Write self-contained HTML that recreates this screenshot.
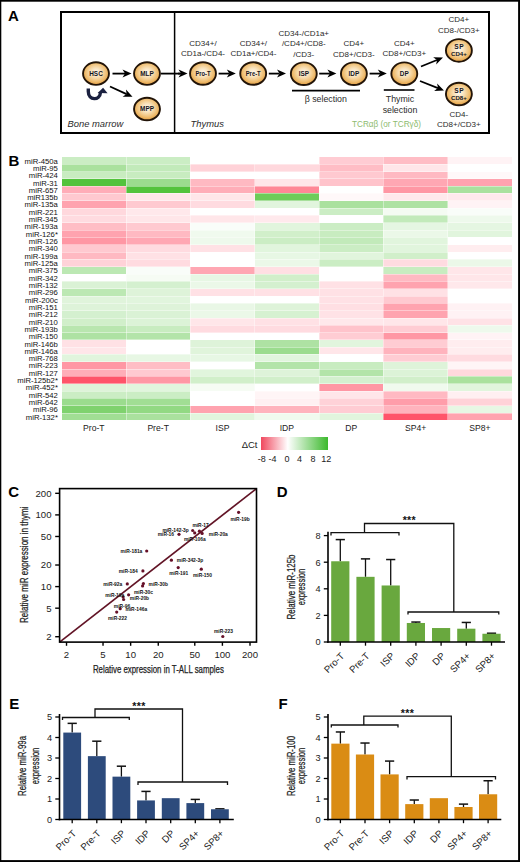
<!DOCTYPE html>
<html><head><meta charset="utf-8"><title>Figure</title>
<style>
html,body{margin:0;padding:0;background:#fff;}
body{width:520px;height:862px;overflow:hidden;}
svg{display:block;}
text{font-family:"Liberation Sans",sans-serif;}
.lbl{font-weight:bold;font-size:15px;fill:#000;}
</style></head><body>
<svg width="520" height="862" viewBox="0 0 520 862">
<defs>
<radialGradient id="cg" cx="50%" cy="45%" r="55%">
<stop offset="0" stop-color="#fef9f0"/>
<stop offset="0.35" stop-color="#f8e2bc"/>
<stop offset="0.75" stop-color="#efbd70"/>
<stop offset="1" stop-color="#e29c40"/>
</radialGradient>
<linearGradient id="lg" x1="0" x2="1" y1="0" y2="0">
<stop offset="0" stop-color="#f0485e"/>
<stop offset="0.4" stop-color="#ffffff"/>
<stop offset="1" stop-color="#3cb92d"/>
</linearGradient>
</defs>
<rect x="0" y="0" width="520" height="862" fill="#fff"/>

<text class="lbl" x="8" y="20.8">A</text>
<rect x="61" y="12" width="428" height="121" fill="none" stroke="#000" stroke-width="2"/>
<line x1="174.6" y1="12" x2="174.6" y2="133" stroke="#000" stroke-width="1.5"/>
<line x1="112.50" y1="73.60" x2="125.00" y2="73.60" stroke="#000" stroke-width="1.80"/><path d="M131.50 73.60L122.50 77.60L125.00 73.60L122.50 69.60Z" fill="#000"/>
<line x1="110.00" y1="86.50" x2="126.59" y2="94.09" stroke="#000" stroke-width="1.80"/><path d="M132.50 96.80L122.65 96.69L126.59 94.09L125.98 89.42Z" fill="#000"/>
<line x1="161" y1="73.60" x2="180" y2="73.60" stroke="#000" stroke-width="1.8"/>
<line x1="178.00" y1="73.60" x2="181.00" y2="73.60" stroke="#000" stroke-width="1.80"/><path d="M187.50 73.60L178.50 77.60L181.00 73.60L178.50 69.60Z" fill="#000"/>
<line x1="218.60" y1="73.60" x2="229.30" y2="73.60" stroke="#000" stroke-width="1.80"/><path d="M235.80 73.60L226.80 77.60L229.30 73.60L226.80 69.60Z" fill="#000"/>
<line x1="268.80" y1="73.60" x2="279.50" y2="73.60" stroke="#000" stroke-width="1.80"/><path d="M286.00 73.60L277.00 77.60L279.50 73.60L277.00 69.60Z" fill="#000"/>
<line x1="319.20" y1="73.60" x2="329.90" y2="73.60" stroke="#000" stroke-width="1.80"/><path d="M336.40 73.60L327.40 77.60L329.90 73.60L327.40 69.60Z" fill="#000"/>
<line x1="369.60" y1="73.60" x2="380.30" y2="73.60" stroke="#000" stroke-width="1.80"/><path d="M386.80 73.60L377.80 77.60L380.30 73.60L377.80 69.60Z" fill="#000"/>
<line x1="421.00" y1="66.50" x2="436.98" y2="59.96" stroke="#000" stroke-width="1.80"/><path d="M443.00 57.50L436.18 64.61L436.98 59.96L433.16 57.21Z" fill="#000"/>
<line x1="420.00" y1="81.00" x2="437.96" y2="88.11" stroke="#000" stroke-width="1.80"/><path d="M444.00 90.50L434.16 90.91L437.96 88.11L437.10 83.47Z" fill="#000"/>
<path d="M88.3 88.6 L88.3 91.5 C88.3 100.8 100 100.8 100.4 92.6" fill="none" stroke="#1b2140" stroke-width="3.4" stroke-linecap="butt"/>
<path d="M103.1 87.8 L107.6 93.2 L97.6 92.9 Z" fill="#1b2140"/>
<ellipse cx="96.00" cy="73.60" rx="12.95" ry="11.3" fill="url(#cg)" stroke="#221408" stroke-width="1.9"/><text x="96.00" y="76.00" font-size="6.4" font-weight="bold" fill="#141420" text-anchor="middle">HSC</text>
<ellipse cx="147.00" cy="73.60" rx="12.95" ry="11.3" fill="url(#cg)" stroke="#221408" stroke-width="1.9"/><text x="147.00" y="76.00" font-size="6.4" font-weight="bold" fill="#141420" text-anchor="middle">MLP</text>
<ellipse cx="147.00" cy="109.00" rx="12.95" ry="11.3" fill="url(#cg)" stroke="#221408" stroke-width="1.9"/><text x="147.00" y="111.40" font-size="6.4" font-weight="bold" fill="#141420" text-anchor="middle">MPP</text>
<ellipse cx="203.00" cy="73.50" rx="12.95" ry="11.3" fill="url(#cg)" stroke="#221408" stroke-width="1.9"/><text x="203.00" y="75.90" font-size="6.4" font-weight="bold" fill="#141420" text-anchor="middle" textLength="15.0" lengthAdjust="spacingAndGlyphs">Pro-T</text>
<ellipse cx="253.20" cy="73.50" rx="12.95" ry="11.3" fill="url(#cg)" stroke="#221408" stroke-width="1.9"/><text x="253.20" y="75.90" font-size="6.4" font-weight="bold" fill="#141420" text-anchor="middle" textLength="15.0" lengthAdjust="spacingAndGlyphs">Pre-T</text>
<ellipse cx="303.80" cy="73.70" rx="12.95" ry="11.3" fill="url(#cg)" stroke="#221408" stroke-width="1.9"/><text x="303.80" y="76.10" font-size="6.4" font-weight="bold" fill="#141420" text-anchor="middle">ISP</text>
<ellipse cx="353.90" cy="73.70" rx="12.95" ry="11.3" fill="url(#cg)" stroke="#221408" stroke-width="1.9"/><text x="353.90" y="76.10" font-size="6.4" font-weight="bold" fill="#141420" text-anchor="middle">IDP</text>
<ellipse cx="404.30" cy="73.70" rx="12.95" ry="11.3" fill="url(#cg)" stroke="#221408" stroke-width="1.9"/><text x="404.30" y="76.10" font-size="6.4" font-weight="bold" fill="#141420" text-anchor="middle">DP</text>
<ellipse cx="458.90" cy="50.40" rx="12.95" ry="11.3" fill="url(#cg)" stroke="#221408" stroke-width="1.9"/><text x="459.15" y="49.10" font-size="6.6" font-weight="bold" fill="#141420" text-anchor="middle" letter-spacing="0.5">SP</text><text x="458.90" y="56.10" font-size="6.1" font-weight="bold" fill="#141420" text-anchor="middle">CD4+</text>
<ellipse cx="458.90" cy="94.00" rx="12.95" ry="11.3" fill="url(#cg)" stroke="#221408" stroke-width="1.9"/><text x="459.15" y="92.70" font-size="6.6" font-weight="bold" fill="#141420" text-anchor="middle" letter-spacing="0.5">SP</text><text x="458.90" y="99.70" font-size="6.1" font-weight="bold" fill="#141420" text-anchor="middle">CD8+</text>
<text x="203.00" y="46.00" font-size="8" fill="#2a2a2a" text-anchor="middle" >CD34+/</text>
<text x="203.00" y="55.50" font-size="8" fill="#2a2a2a" text-anchor="middle" >CD1a-/CD4-</text>
<text x="253.40" y="46.00" font-size="8" fill="#2a2a2a" text-anchor="middle" >CD34+/</text>
<text x="253.40" y="55.50" font-size="8" fill="#2a2a2a" text-anchor="middle" >CD1a+/CD4-</text>
<text x="303.80" y="35.80" font-size="8" fill="#2a2a2a" text-anchor="middle" >CD34-/CD1a+</text>
<text x="303.80" y="46.00" font-size="8" fill="#2a2a2a" text-anchor="middle" >/CD4+/CD8-</text>
<text x="303.80" y="56.50" font-size="8" fill="#2a2a2a" text-anchor="middle" >/CD3-</text>
<text x="353.80" y="46.00" font-size="8" fill="#2a2a2a" text-anchor="middle" >CD4+</text>
<text x="353.80" y="56.50" font-size="8" fill="#2a2a2a" text-anchor="middle" >CD8+/CD3-</text>
<text x="404.30" y="46.00" font-size="8" fill="#2a2a2a" text-anchor="middle" >CD4+</text>
<text x="404.30" y="56.00" font-size="8" fill="#2a2a2a" text-anchor="middle" >CD8+/CD3+</text>
<text x="458.80" y="22.30" font-size="8" fill="#2a2a2a" text-anchor="middle" >CD4+</text>
<text x="458.80" y="32.80" font-size="8" fill="#2a2a2a" text-anchor="middle" >CD8-/CD3+</text>
<text x="458.80" y="117.30" font-size="8" fill="#2a2a2a" text-anchor="middle" >CD4-</text>
<text x="458.80" y="127.30" font-size="8" fill="#2a2a2a" text-anchor="middle" >CD8+/CD3+</text>
<line x1="292" y1="90.6" x2="360" y2="90.6" stroke="#000" stroke-width="1.6"/>
<text x="325.80" y="102.20" font-size="8.8" fill="#2a2a2a" text-anchor="middle" >&#946; selection</text>
<line x1="383.8" y1="90" x2="414.5" y2="90" stroke="#000" stroke-width="1.6"/>
<text x="400.00" y="101.70" font-size="8.8" fill="#2a2a2a" text-anchor="middle" >Thymic</text>
<text x="400.00" y="113.00" font-size="8.8" fill="#2a2a2a" text-anchor="middle" >selection</text>
<text x="386.50" y="126.50" font-size="8.2" fill="#8dbb6e" text-anchor="middle" >TCR&#945;&#946; (or TCR&#947;&#948;)</text>
<text x="67.50" y="126.50" font-size="9.4" fill="#2a2a2a" text-anchor="start" font-style="italic">Bone marrow</text>
<text x="190.50" y="126.50" font-size="9.4" fill="#2a2a2a" text-anchor="start" font-style="italic">Thymus</text>
<text class="lbl" x="8.5" y="165.8">B</text>
<g shape-rendering="crispEdges">
<rect x="61.60" y="156.90" width="64.66" height="7.62" fill="#cbedc4"/>
<rect x="125.96" y="156.90" width="64.66" height="7.62" fill="#cbedc4"/>
<rect x="190.31" y="156.90" width="64.66" height="7.62" fill="#ffffff"/>
<rect x="254.67" y="156.90" width="64.66" height="7.62" fill="#ffffff"/>
<rect x="319.03" y="156.90" width="64.66" height="7.62" fill="#ffccd3"/>
<rect x="383.39" y="156.90" width="64.66" height="7.62" fill="#ffbdc5"/>
<rect x="447.74" y="156.90" width="64.66" height="7.62" fill="#fff3f5"/>
<rect x="61.60" y="164.22" width="64.66" height="7.62" fill="#aae19e"/>
<rect x="125.96" y="164.22" width="64.66" height="7.62" fill="#c2eaba"/>
<rect x="190.31" y="164.22" width="64.66" height="7.62" fill="#ffd2d8"/>
<rect x="254.67" y="164.22" width="64.66" height="7.62" fill="#ffd8dd"/>
<rect x="319.03" y="164.22" width="64.66" height="7.62" fill="#ffbdc5"/>
<rect x="383.39" y="164.22" width="64.66" height="7.62" fill="#ffe6e9"/>
<rect x="447.74" y="164.22" width="64.66" height="7.62" fill="#ffffff"/>
<rect x="61.60" y="171.54" width="64.66" height="7.62" fill="#c8ecc0"/>
<rect x="125.96" y="171.54" width="64.66" height="7.62" fill="#c8ecc0"/>
<rect x="190.31" y="171.54" width="64.66" height="7.62" fill="#ffffff"/>
<rect x="254.67" y="171.54" width="64.66" height="7.62" fill="#ffffff"/>
<rect x="319.03" y="171.54" width="64.66" height="7.62" fill="#ffc9d0"/>
<rect x="383.39" y="171.54" width="64.66" height="7.62" fill="#ffb9c2"/>
<rect x="447.74" y="171.54" width="64.66" height="7.62" fill="#fff8f9"/>
<rect x="61.60" y="178.85" width="64.66" height="7.62" fill="#53c33c"/>
<rect x="125.96" y="178.85" width="64.66" height="7.62" fill="#9bdc8e"/>
<rect x="190.31" y="178.85" width="64.66" height="7.62" fill="#ffb9c2"/>
<rect x="254.67" y="178.85" width="64.66" height="7.62" fill="#ffe6e9"/>
<rect x="319.03" y="178.85" width="64.66" height="7.62" fill="#ffc3cb"/>
<rect x="383.39" y="178.85" width="64.66" height="7.62" fill="#ffa7b3"/>
<rect x="447.74" y="178.85" width="64.66" height="7.62" fill="#ffa3af"/>
<rect x="61.60" y="186.17" width="64.66" height="7.62" fill="#ffadb8"/>
<rect x="125.96" y="186.17" width="64.66" height="7.62" fill="#53c33c"/>
<rect x="190.31" y="186.17" width="64.66" height="7.62" fill="#ffadb8"/>
<rect x="254.67" y="186.17" width="64.66" height="7.62" fill="#ff8796"/>
<rect x="319.03" y="186.17" width="64.66" height="7.62" fill="#ffffff"/>
<rect x="383.39" y="186.17" width="64.66" height="7.62" fill="#ff97a4"/>
<rect x="447.74" y="186.17" width="64.66" height="7.62" fill="#aae19e"/>
<rect x="61.60" y="193.49" width="64.66" height="7.62" fill="#ffc9d0"/>
<rect x="125.96" y="193.49" width="64.66" height="7.62" fill="#ffe6e9"/>
<rect x="190.31" y="193.49" width="64.66" height="7.62" fill="#ffe6e9"/>
<rect x="254.67" y="193.49" width="64.66" height="7.62" fill="#6dcc59"/>
<rect x="319.03" y="193.49" width="64.66" height="7.62" fill="#fff8f9"/>
<rect x="383.39" y="193.49" width="64.66" height="7.62" fill="#ffe9ec"/>
<rect x="447.74" y="193.49" width="64.66" height="7.62" fill="#ffe9ec"/>
<rect x="61.60" y="200.81" width="64.66" height="7.62" fill="#ffa3af"/>
<rect x="125.96" y="200.81" width="64.66" height="7.62" fill="#ffc9d0"/>
<rect x="190.31" y="200.81" width="64.66" height="7.62" fill="#ffdbe0"/>
<rect x="254.67" y="200.81" width="64.66" height="7.62" fill="#e1f5dd"/>
<rect x="319.03" y="200.81" width="64.66" height="7.62" fill="#aae19e"/>
<rect x="383.39" y="200.81" width="64.66" height="7.62" fill="#aee2a3"/>
<rect x="447.74" y="200.81" width="64.66" height="7.62" fill="#fff3f5"/>
<rect x="61.60" y="208.13" width="64.66" height="7.62" fill="#ffd8dd"/>
<rect x="125.96" y="208.13" width="64.66" height="7.62" fill="#ffe8eb"/>
<rect x="190.31" y="208.13" width="64.66" height="7.62" fill="#ffffff"/>
<rect x="254.67" y="208.13" width="64.66" height="7.62" fill="#ffffff"/>
<rect x="319.03" y="208.13" width="64.66" height="7.62" fill="#cbedc4"/>
<rect x="383.39" y="208.13" width="64.66" height="7.62" fill="#f4fbf2"/>
<rect x="447.74" y="208.13" width="64.66" height="7.62" fill="#f9fdf9"/>
<rect x="61.60" y="215.44" width="64.66" height="7.62" fill="#ffdbe0"/>
<rect x="125.96" y="215.44" width="64.66" height="7.62" fill="#ffe6e9"/>
<rect x="190.31" y="215.44" width="64.66" height="7.62" fill="#ffe6e9"/>
<rect x="254.67" y="215.44" width="64.66" height="7.62" fill="#ffe9ec"/>
<rect x="319.03" y="215.44" width="64.66" height="7.62" fill="#ffffff"/>
<rect x="383.39" y="215.44" width="64.66" height="7.62" fill="#c2eaba"/>
<rect x="447.74" y="215.44" width="64.66" height="7.62" fill="#eef9ec"/>
<rect x="61.60" y="222.76" width="64.66" height="7.62" fill="#ffbdc5"/>
<rect x="125.96" y="222.76" width="64.66" height="7.62" fill="#ffc9d0"/>
<rect x="190.31" y="222.76" width="64.66" height="7.62" fill="#f9fdf9"/>
<rect x="254.67" y="222.76" width="64.66" height="7.62" fill="#e1f5dd"/>
<rect x="319.03" y="222.76" width="64.66" height="7.62" fill="#cbedc4"/>
<rect x="383.39" y="222.76" width="64.66" height="7.62" fill="#e5f6e2"/>
<rect x="447.74" y="222.76" width="64.66" height="7.62" fill="#e5f6e2"/>
<rect x="61.60" y="230.08" width="64.66" height="7.62" fill="#ffa3af"/>
<rect x="125.96" y="230.08" width="64.66" height="7.62" fill="#ffb9c2"/>
<rect x="190.31" y="230.08" width="64.66" height="7.62" fill="#f0faee"/>
<rect x="254.67" y="230.08" width="64.66" height="7.62" fill="#d1efca"/>
<rect x="319.03" y="230.08" width="64.66" height="7.62" fill="#c8ecc0"/>
<rect x="383.39" y="230.08" width="64.66" height="7.62" fill="#ebf8e8"/>
<rect x="447.74" y="230.08" width="64.66" height="7.62" fill="#e1f5dd"/>
<rect x="61.60" y="237.40" width="64.66" height="7.62" fill="#ff97a4"/>
<rect x="125.96" y="237.40" width="64.66" height="7.62" fill="#ffa7b3"/>
<rect x="190.31" y="237.40" width="64.66" height="7.62" fill="#eef9ec"/>
<rect x="254.67" y="237.40" width="64.66" height="7.62" fill="#cbedc4"/>
<rect x="319.03" y="237.40" width="64.66" height="7.62" fill="#c2eaba"/>
<rect x="383.39" y="237.40" width="64.66" height="7.62" fill="#e1f5dd"/>
<rect x="447.74" y="237.40" width="64.66" height="7.62" fill="#ffffff"/>
<rect x="61.60" y="244.72" width="64.66" height="7.62" fill="#ffc9d0"/>
<rect x="125.96" y="244.72" width="64.66" height="7.62" fill="#ffdbe0"/>
<rect x="190.31" y="244.72" width="64.66" height="7.62" fill="#ffe1e5"/>
<rect x="254.67" y="244.72" width="64.66" height="7.62" fill="#e1f5dd"/>
<rect x="319.03" y="244.72" width="64.66" height="7.62" fill="#cbedc4"/>
<rect x="383.39" y="244.72" width="64.66" height="7.62" fill="#e1f5dd"/>
<rect x="447.74" y="244.72" width="64.66" height="7.62" fill="#ffedef"/>
<rect x="61.60" y="252.03" width="64.66" height="7.62" fill="#ffb9c2"/>
<rect x="125.96" y="252.03" width="64.66" height="7.62" fill="#ffe1e5"/>
<rect x="190.31" y="252.03" width="64.66" height="7.62" fill="#ffffff"/>
<rect x="254.67" y="252.03" width="64.66" height="7.62" fill="#e7f7e4"/>
<rect x="319.03" y="252.03" width="64.66" height="7.62" fill="#e1f5dd"/>
<rect x="383.39" y="252.03" width="64.66" height="7.62" fill="#d1efca"/>
<rect x="447.74" y="252.03" width="64.66" height="7.62" fill="#ffffff"/>
<rect x="61.60" y="259.35" width="64.66" height="7.62" fill="#ffd2d8"/>
<rect x="125.96" y="259.35" width="64.66" height="7.62" fill="#ffdbe0"/>
<rect x="190.31" y="259.35" width="64.66" height="7.62" fill="#ffffff"/>
<rect x="254.67" y="259.35" width="64.66" height="7.62" fill="#ebf8e8"/>
<rect x="319.03" y="259.35" width="64.66" height="7.62" fill="#cbedc4"/>
<rect x="383.39" y="259.35" width="64.66" height="7.62" fill="#ffdbe0"/>
<rect x="447.74" y="259.35" width="64.66" height="7.62" fill="#ebf8e8"/>
<rect x="61.60" y="266.67" width="64.66" height="7.62" fill="#bce8b3"/>
<rect x="125.96" y="266.67" width="64.66" height="7.62" fill="#f9fdf9"/>
<rect x="190.31" y="266.67" width="64.66" height="7.62" fill="#ffa7b3"/>
<rect x="254.67" y="266.67" width="64.66" height="7.62" fill="#ffdfe3"/>
<rect x="319.03" y="266.67" width="64.66" height="7.62" fill="#ffffff"/>
<rect x="383.39" y="266.67" width="64.66" height="7.62" fill="#c8ecc0"/>
<rect x="447.74" y="266.67" width="64.66" height="7.62" fill="#ffe6e9"/>
<rect x="61.60" y="273.99" width="64.66" height="7.62" fill="#ffffff"/>
<rect x="125.96" y="273.99" width="64.66" height="7.62" fill="#f6fcf4"/>
<rect x="190.31" y="273.99" width="64.66" height="7.62" fill="#e7f7e4"/>
<rect x="254.67" y="273.99" width="64.66" height="7.62" fill="#d1efca"/>
<rect x="319.03" y="273.99" width="64.66" height="7.62" fill="#ffffff"/>
<rect x="383.39" y="273.99" width="64.66" height="7.62" fill="#ffb9c2"/>
<rect x="447.74" y="273.99" width="64.66" height="7.62" fill="#ffe6e9"/>
<rect x="61.60" y="281.31" width="64.66" height="7.62" fill="#daf2d5"/>
<rect x="125.96" y="281.31" width="64.66" height="7.62" fill="#d4f0cf"/>
<rect x="190.31" y="281.31" width="64.66" height="7.62" fill="#ebf8e8"/>
<rect x="254.67" y="281.31" width="64.66" height="7.62" fill="#d4f0cf"/>
<rect x="319.03" y="281.31" width="64.66" height="7.62" fill="#ffe1e5"/>
<rect x="383.39" y="281.31" width="64.66" height="7.62" fill="#ffa3af"/>
<rect x="447.74" y="281.31" width="64.66" height="7.62" fill="#ffe8eb"/>
<rect x="61.60" y="288.62" width="64.66" height="7.62" fill="#bce8b3"/>
<rect x="125.96" y="288.62" width="64.66" height="7.62" fill="#def3d9"/>
<rect x="190.31" y="288.62" width="64.66" height="7.62" fill="#ffe1e5"/>
<rect x="254.67" y="288.62" width="64.66" height="7.62" fill="#ffe1e5"/>
<rect x="319.03" y="288.62" width="64.66" height="7.62" fill="#ffe1e5"/>
<rect x="383.39" y="288.62" width="64.66" height="7.62" fill="#ffe1e5"/>
<rect x="447.74" y="288.62" width="64.66" height="7.62" fill="#ffffff"/>
<rect x="61.60" y="295.94" width="64.66" height="7.62" fill="#e0f4db"/>
<rect x="125.96" y="295.94" width="64.66" height="7.62" fill="#e1f5dd"/>
<rect x="190.31" y="295.94" width="64.66" height="7.62" fill="#ffffff"/>
<rect x="254.67" y="295.94" width="64.66" height="7.62" fill="#ffffff"/>
<rect x="319.03" y="295.94" width="64.66" height="7.62" fill="#ffe1e5"/>
<rect x="383.39" y="295.94" width="64.66" height="7.62" fill="#ffc9d0"/>
<rect x="447.74" y="295.94" width="64.66" height="7.62" fill="#ffffff"/>
<rect x="61.60" y="303.26" width="64.66" height="7.62" fill="#def3d9"/>
<rect x="125.96" y="303.26" width="64.66" height="7.62" fill="#def3d9"/>
<rect x="190.31" y="303.26" width="64.66" height="7.62" fill="#e9f7e6"/>
<rect x="254.67" y="303.26" width="64.66" height="7.62" fill="#def3d9"/>
<rect x="319.03" y="303.26" width="64.66" height="7.62" fill="#ffdfe3"/>
<rect x="383.39" y="303.26" width="64.66" height="7.62" fill="#ffa3af"/>
<rect x="447.74" y="303.26" width="64.66" height="7.62" fill="#fff2f4"/>
<rect x="61.60" y="310.58" width="64.66" height="7.62" fill="#d4f0cf"/>
<rect x="125.96" y="310.58" width="64.66" height="7.62" fill="#daf2d5"/>
<rect x="190.31" y="310.58" width="64.66" height="7.62" fill="#ebf8e8"/>
<rect x="254.67" y="310.58" width="64.66" height="7.62" fill="#d6f1d1"/>
<rect x="319.03" y="310.58" width="64.66" height="7.62" fill="#ffe2e6"/>
<rect x="383.39" y="310.58" width="64.66" height="7.62" fill="#ffa3af"/>
<rect x="447.74" y="310.58" width="64.66" height="7.62" fill="#fff2f4"/>
<rect x="61.60" y="317.90" width="64.66" height="7.62" fill="#d1efca"/>
<rect x="125.96" y="317.90" width="64.66" height="7.62" fill="#dcf3d7"/>
<rect x="190.31" y="317.90" width="64.66" height="7.62" fill="#ffe6e9"/>
<rect x="254.67" y="317.90" width="64.66" height="7.62" fill="#ffe1e5"/>
<rect x="319.03" y="317.90" width="64.66" height="7.62" fill="#ffe8eb"/>
<rect x="383.39" y="317.90" width="64.66" height="7.62" fill="#ffe6e9"/>
<rect x="447.74" y="317.90" width="64.66" height="7.62" fill="#ffe2e6"/>
<rect x="61.60" y="325.21" width="64.66" height="7.62" fill="#b9e6af"/>
<rect x="125.96" y="325.21" width="64.66" height="7.62" fill="#c8ecc0"/>
<rect x="190.31" y="325.21" width="64.66" height="7.62" fill="#ffdbe0"/>
<rect x="254.67" y="325.21" width="64.66" height="7.62" fill="#ffdbe0"/>
<rect x="319.03" y="325.21" width="64.66" height="7.62" fill="#ffc3cb"/>
<rect x="383.39" y="325.21" width="64.66" height="7.62" fill="#ffccd3"/>
<rect x="447.74" y="325.21" width="64.66" height="7.62" fill="#eef9ec"/>
<rect x="61.60" y="332.53" width="64.66" height="7.62" fill="#aee2a3"/>
<rect x="125.96" y="332.53" width="64.66" height="7.62" fill="#b3e4a9"/>
<rect x="190.31" y="332.53" width="64.66" height="7.62" fill="#ffffff"/>
<rect x="254.67" y="332.53" width="64.66" height="7.62" fill="#ffffff"/>
<rect x="319.03" y="332.53" width="64.66" height="7.62" fill="#ffccd3"/>
<rect x="383.39" y="332.53" width="64.66" height="7.62" fill="#ff97a4"/>
<rect x="447.74" y="332.53" width="64.66" height="7.62" fill="#fff3f5"/>
<rect x="61.60" y="339.85" width="64.66" height="7.62" fill="#ffe1e5"/>
<rect x="125.96" y="339.85" width="64.66" height="7.62" fill="#ffffff"/>
<rect x="190.31" y="339.85" width="64.66" height="7.62" fill="#def3d9"/>
<rect x="254.67" y="339.85" width="64.66" height="7.62" fill="#aee2a3"/>
<rect x="319.03" y="339.85" width="64.66" height="7.62" fill="#e1f5dd"/>
<rect x="383.39" y="339.85" width="64.66" height="7.62" fill="#ffccd3"/>
<rect x="447.74" y="339.85" width="64.66" height="7.62" fill="#ffedef"/>
<rect x="61.60" y="347.17" width="64.66" height="7.62" fill="#ffe6e9"/>
<rect x="125.96" y="347.17" width="64.66" height="7.62" fill="#ffffff"/>
<rect x="190.31" y="347.17" width="64.66" height="7.62" fill="#e0f4db"/>
<rect x="254.67" y="347.17" width="64.66" height="7.62" fill="#9bdc8e"/>
<rect x="319.03" y="347.17" width="64.66" height="7.62" fill="#ffe6e9"/>
<rect x="383.39" y="347.17" width="64.66" height="7.62" fill="#ffb3bd"/>
<rect x="447.74" y="347.17" width="64.66" height="7.62" fill="#ffedef"/>
<rect x="61.60" y="354.49" width="64.66" height="7.62" fill="#e1f5dd"/>
<rect x="125.96" y="354.49" width="64.66" height="7.62" fill="#e7f7e4"/>
<rect x="190.31" y="354.49" width="64.66" height="7.62" fill="#e7f7e4"/>
<rect x="254.67" y="354.49" width="64.66" height="7.62" fill="#e1f5dd"/>
<rect x="319.03" y="354.49" width="64.66" height="7.62" fill="#ffffff"/>
<rect x="383.39" y="354.49" width="64.66" height="7.62" fill="#ffccd3"/>
<rect x="447.74" y="354.49" width="64.66" height="7.62" fill="#ffdbe0"/>
<rect x="61.60" y="361.80" width="64.66" height="7.62" fill="#ff97a4"/>
<rect x="125.96" y="361.80" width="64.66" height="7.62" fill="#ffbdc5"/>
<rect x="190.31" y="361.80" width="64.66" height="7.62" fill="#ffffff"/>
<rect x="254.67" y="361.80" width="64.66" height="7.62" fill="#b3e4a9"/>
<rect x="319.03" y="361.80" width="64.66" height="7.62" fill="#c8ecc0"/>
<rect x="383.39" y="361.80" width="64.66" height="7.62" fill="#def3d9"/>
<rect x="447.74" y="361.80" width="64.66" height="7.62" fill="#fff5f6"/>
<rect x="61.60" y="369.12" width="64.66" height="7.62" fill="#ffadb8"/>
<rect x="125.96" y="369.12" width="64.66" height="7.62" fill="#ffc9d0"/>
<rect x="190.31" y="369.12" width="64.66" height="7.62" fill="#e1f5dd"/>
<rect x="254.67" y="369.12" width="64.66" height="7.62" fill="#def3d9"/>
<rect x="319.03" y="369.12" width="64.66" height="7.62" fill="#b3e4a9"/>
<rect x="383.39" y="369.12" width="64.66" height="7.62" fill="#dcf3d7"/>
<rect x="447.74" y="369.12" width="64.66" height="7.62" fill="#ffd8dd"/>
<rect x="61.60" y="376.44" width="64.66" height="7.62" fill="#ff546a"/>
<rect x="125.96" y="376.44" width="64.66" height="7.62" fill="#ff97a4"/>
<rect x="190.31" y="376.44" width="64.66" height="7.62" fill="#d1efca"/>
<rect x="254.67" y="376.44" width="64.66" height="7.62" fill="#d1efca"/>
<rect x="319.03" y="376.44" width="64.66" height="7.62" fill="#d4f0cf"/>
<rect x="383.39" y="376.44" width="64.66" height="7.62" fill="#d1efca"/>
<rect x="447.74" y="376.44" width="64.66" height="7.62" fill="#aae19e"/>
<rect x="61.60" y="383.76" width="64.66" height="7.62" fill="#def3d9"/>
<rect x="125.96" y="383.76" width="64.66" height="7.62" fill="#e1f5dd"/>
<rect x="190.31" y="383.76" width="64.66" height="7.62" fill="#f6fcf4"/>
<rect x="254.67" y="383.76" width="64.66" height="7.62" fill="#ffffff"/>
<rect x="319.03" y="383.76" width="64.66" height="7.62" fill="#ff97a4"/>
<rect x="383.39" y="383.76" width="64.66" height="7.62" fill="#f0faee"/>
<rect x="447.74" y="383.76" width="64.66" height="7.62" fill="#e1f5dd"/>
<rect x="61.60" y="391.08" width="64.66" height="7.62" fill="#cbedc4"/>
<rect x="125.96" y="391.08" width="64.66" height="7.62" fill="#cbedc4"/>
<rect x="190.31" y="391.08" width="64.66" height="7.62" fill="#ffffff"/>
<rect x="254.67" y="391.08" width="64.66" height="7.62" fill="#fff5f6"/>
<rect x="319.03" y="391.08" width="64.66" height="7.62" fill="#ffe6e9"/>
<rect x="383.39" y="391.08" width="64.66" height="7.62" fill="#ffb9c2"/>
<rect x="447.74" y="391.08" width="64.66" height="7.62" fill="#ffeff1"/>
<rect x="61.60" y="398.39" width="64.66" height="7.62" fill="#9bdc8e"/>
<rect x="125.96" y="398.39" width="64.66" height="7.62" fill="#a1de94"/>
<rect x="190.31" y="398.39" width="64.66" height="7.62" fill="#ffffff"/>
<rect x="254.67" y="398.39" width="64.66" height="7.62" fill="#fff0f2"/>
<rect x="319.03" y="398.39" width="64.66" height="7.62" fill="#ffd2d8"/>
<rect x="383.39" y="398.39" width="64.66" height="7.62" fill="#ff9daa"/>
<rect x="447.74" y="398.39" width="64.66" height="7.62" fill="#ffd2d8"/>
<rect x="61.60" y="405.71" width="64.66" height="7.62" fill="#7fd26e"/>
<rect x="125.96" y="405.71" width="64.66" height="7.62" fill="#92d983"/>
<rect x="190.31" y="405.71" width="64.66" height="7.62" fill="#ffa3af"/>
<rect x="254.67" y="405.71" width="64.66" height="7.62" fill="#ffb3bd"/>
<rect x="319.03" y="405.71" width="64.66" height="7.62" fill="#ffccd3"/>
<rect x="383.39" y="405.71" width="64.66" height="7.62" fill="#ffb3bd"/>
<rect x="447.74" y="405.71" width="64.66" height="7.62" fill="#e7f7e4"/>
<rect x="61.60" y="413.03" width="64.66" height="6.47" fill="#a1de94"/>
<rect x="125.96" y="413.03" width="64.66" height="6.47" fill="#aae19e"/>
<rect x="190.31" y="413.03" width="64.66" height="6.47" fill="#e1f5dd"/>
<rect x="254.67" y="413.03" width="64.66" height="6.47" fill="#f0faee"/>
<rect x="319.03" y="413.03" width="64.66" height="6.47" fill="#e1f5dd"/>
<rect x="383.39" y="413.03" width="64.66" height="6.47" fill="#ff546a"/>
<rect x="447.74" y="413.03" width="64.66" height="6.47" fill="#ffa3af"/>
<rect x="61.60" y="163.82" width="450.50" height="1" fill="#fff" fill-opacity="0.4"/>
<rect x="61.60" y="171.14" width="450.50" height="1" fill="#fff" fill-opacity="0.4"/>
<rect x="61.60" y="178.45" width="450.50" height="1" fill="#fff" fill-opacity="0.4"/>
<rect x="61.60" y="185.77" width="450.50" height="1" fill="#fff" fill-opacity="0.4"/>
<rect x="61.60" y="193.09" width="450.50" height="1" fill="#fff" fill-opacity="0.4"/>
<rect x="61.60" y="200.41" width="450.50" height="1" fill="#fff" fill-opacity="0.4"/>
<rect x="61.60" y="207.73" width="450.50" height="1" fill="#fff" fill-opacity="0.4"/>
<rect x="61.60" y="215.04" width="450.50" height="1" fill="#fff" fill-opacity="0.4"/>
<rect x="61.60" y="222.36" width="450.50" height="1" fill="#fff" fill-opacity="0.4"/>
<rect x="61.60" y="229.68" width="450.50" height="1" fill="#fff" fill-opacity="0.4"/>
<rect x="61.60" y="237.00" width="450.50" height="1" fill="#fff" fill-opacity="0.4"/>
<rect x="61.60" y="244.32" width="450.50" height="1" fill="#fff" fill-opacity="0.4"/>
<rect x="61.60" y="251.63" width="450.50" height="1" fill="#fff" fill-opacity="0.4"/>
<rect x="61.60" y="258.95" width="450.50" height="1" fill="#fff" fill-opacity="0.4"/>
<rect x="61.60" y="266.27" width="450.50" height="1" fill="#fff" fill-opacity="0.4"/>
<rect x="61.60" y="273.59" width="450.50" height="1" fill="#fff" fill-opacity="0.4"/>
<rect x="61.60" y="280.91" width="450.50" height="1" fill="#fff" fill-opacity="0.4"/>
<rect x="61.60" y="288.22" width="450.50" height="1" fill="#fff" fill-opacity="0.4"/>
<rect x="61.60" y="295.54" width="450.50" height="1" fill="#fff" fill-opacity="0.4"/>
<rect x="61.60" y="302.86" width="450.50" height="1" fill="#fff" fill-opacity="0.4"/>
<rect x="61.60" y="310.18" width="450.50" height="1" fill="#fff" fill-opacity="0.4"/>
<rect x="61.60" y="317.50" width="450.50" height="1" fill="#fff" fill-opacity="0.4"/>
<rect x="61.60" y="324.81" width="450.50" height="1" fill="#fff" fill-opacity="0.4"/>
<rect x="61.60" y="332.13" width="450.50" height="1" fill="#fff" fill-opacity="0.4"/>
<rect x="61.60" y="339.45" width="450.50" height="1" fill="#fff" fill-opacity="0.4"/>
<rect x="61.60" y="346.77" width="450.50" height="1" fill="#fff" fill-opacity="0.4"/>
<rect x="61.60" y="354.09" width="450.50" height="1" fill="#fff" fill-opacity="0.4"/>
<rect x="61.60" y="361.40" width="450.50" height="1" fill="#fff" fill-opacity="0.4"/>
<rect x="61.60" y="368.72" width="450.50" height="1" fill="#fff" fill-opacity="0.4"/>
<rect x="61.60" y="376.04" width="450.50" height="1" fill="#fff" fill-opacity="0.4"/>
<rect x="61.60" y="383.36" width="450.50" height="1" fill="#fff" fill-opacity="0.4"/>
<rect x="61.60" y="390.68" width="450.50" height="1" fill="#fff" fill-opacity="0.4"/>
<rect x="61.60" y="397.99" width="450.50" height="1" fill="#fff" fill-opacity="0.4"/>
<rect x="61.60" y="405.31" width="450.50" height="1" fill="#fff" fill-opacity="0.4"/>
<rect x="61.60" y="412.63" width="450.50" height="1" fill="#fff" fill-opacity="0.4"/>
<rect x="125.56" y="156.90" width="1" height="262.60" fill="#fff" fill-opacity="0.4"/>
<rect x="189.91" y="156.90" width="1" height="262.60" fill="#fff" fill-opacity="0.4"/>
<rect x="254.27" y="156.90" width="1" height="262.60" fill="#fff" fill-opacity="0.4"/>
<rect x="318.63" y="156.90" width="1" height="262.60" fill="#fff" fill-opacity="0.4"/>
<rect x="382.99" y="156.90" width="1" height="262.60" fill="#fff" fill-opacity="0.4"/>
<rect x="447.34" y="156.90" width="1" height="262.60" fill="#fff" fill-opacity="0.4"/>
</g>
<text x="57.9" y="163.56" font-size="7.7" fill="#111" text-anchor="end">miR-450a</text>
<text x="57.9" y="170.88" font-size="7.7" fill="#111" text-anchor="end">miR-95</text>
<text x="57.9" y="178.19" font-size="7.7" fill="#111" text-anchor="end">miR-424</text>
<text x="57.9" y="185.51" font-size="7.7" fill="#111" text-anchor="end">miR-31</text>
<text x="57.9" y="192.83" font-size="7.7" fill="#111" text-anchor="end">miR-657</text>
<text x="57.9" y="200.15" font-size="7.7" fill="#111" text-anchor="end">miR135b</text>
<text x="57.9" y="207.47" font-size="7.7" fill="#111" text-anchor="end">miR-135a</text>
<text x="57.9" y="214.78" font-size="7.7" fill="#111" text-anchor="end">miR-221</text>
<text x="57.9" y="222.10" font-size="7.7" fill="#111" text-anchor="end">miR-345</text>
<text x="57.9" y="229.42" font-size="7.7" fill="#111" text-anchor="end">miR-193a</text>
<text x="57.9" y="236.74" font-size="7.7" fill="#111" text-anchor="end">miR-126*</text>
<text x="57.9" y="244.06" font-size="7.7" fill="#111" text-anchor="end">miR-126</text>
<text x="57.9" y="251.38" font-size="7.7" fill="#111" text-anchor="end">miR-340</text>
<text x="57.9" y="258.69" font-size="7.7" fill="#111" text-anchor="end">miR-199a</text>
<text x="57.9" y="266.01" font-size="7.7" fill="#111" text-anchor="end">miR-125a</text>
<text x="57.9" y="273.33" font-size="7.7" fill="#111" text-anchor="end">miR-375</text>
<text x="57.9" y="280.65" font-size="7.7" fill="#111" text-anchor="end">miR-342</text>
<text x="57.9" y="287.96" font-size="7.7" fill="#111" text-anchor="end">miR-132</text>
<text x="57.9" y="295.28" font-size="7.7" fill="#111" text-anchor="end">miR-296</text>
<text x="57.9" y="302.60" font-size="7.7" fill="#111" text-anchor="end">miR-200c</text>
<text x="57.9" y="309.92" font-size="7.7" fill="#111" text-anchor="end">miR-151</text>
<text x="57.9" y="317.24" font-size="7.7" fill="#111" text-anchor="end">miR-212</text>
<text x="57.9" y="324.55" font-size="7.7" fill="#111" text-anchor="end">miR-210</text>
<text x="57.9" y="331.87" font-size="7.7" fill="#111" text-anchor="end">miR-193b</text>
<text x="57.9" y="339.19" font-size="7.7" fill="#111" text-anchor="end">miR-150</text>
<text x="57.9" y="346.51" font-size="7.7" fill="#111" text-anchor="end">miR-146b</text>
<text x="57.9" y="353.83" font-size="7.7" fill="#111" text-anchor="end">miR-146a</text>
<text x="57.9" y="361.14" font-size="7.7" fill="#111" text-anchor="end">miR-768</text>
<text x="57.9" y="368.46" font-size="7.7" fill="#111" text-anchor="end">miR-223</text>
<text x="57.9" y="375.78" font-size="7.7" fill="#111" text-anchor="end">miR-127</text>
<text x="57.9" y="383.10" font-size="7.7" fill="#111" text-anchor="end">miR-125b2*</text>
<text x="57.9" y="390.42" font-size="7.7" fill="#111" text-anchor="end">miR-452*</text>
<text x="57.9" y="397.74" font-size="7.7" fill="#111" text-anchor="end">miR-542</text>
<text x="57.9" y="405.05" font-size="7.7" fill="#111" text-anchor="end">miR-642</text>
<text x="57.9" y="412.37" font-size="7.7" fill="#111" text-anchor="end">miR-96</text>
<text x="57.9" y="419.69" font-size="7.7" fill="#111" text-anchor="end">miR-132*</text>
<text x="93.78" y="431.20" font-size="8.6" fill="#222" text-anchor="middle" >Pro-T</text>
<text x="158.14" y="431.20" font-size="8.6" fill="#222" text-anchor="middle" >Pre-T</text>
<text x="222.49" y="431.20" font-size="8.6" fill="#222" text-anchor="middle" >ISP</text>
<text x="286.85" y="431.20" font-size="8.6" fill="#222" text-anchor="middle" >IDP</text>
<text x="351.21" y="431.20" font-size="8.6" fill="#222" text-anchor="middle" >DP</text>
<text x="415.56" y="431.20" font-size="8.6" fill="#222" text-anchor="middle" >SP4+</text>
<text x="479.92" y="431.20" font-size="8.6" fill="#222" text-anchor="middle" >SP8+</text>
<rect x="261" y="437" width="67" height="13" fill="url(#lg)"/>
<text x="257.50" y="448.00" font-size="9.5" fill="#222" text-anchor="end" >&#916;Ct</text>
<text x="261.70" y="461.70" font-size="9" fill="#222" text-anchor="middle" >-8</text>
<text x="272.50" y="461.70" font-size="9" fill="#222" text-anchor="middle" >-4</text>
<text x="287.00" y="461.70" font-size="9" fill="#222" text-anchor="middle" >0</text>
<text x="299.60" y="461.70" font-size="9" fill="#222" text-anchor="middle" >4</text>
<text x="313.00" y="461.70" font-size="9" fill="#222" text-anchor="middle" >8</text>
<text x="326.30" y="461.70" font-size="9" fill="#222" text-anchor="middle" >12</text>
<text class="lbl" x="8.3" y="496.9">C</text>
<line x1="59.6" y1="642.1" x2="256.5" y2="488.6" stroke="#621426" stroke-width="1.7"/>
<rect x="59.6" y="488.6" width="196.9" height="153.5" fill="none" stroke="#000" stroke-width="1.6"/>
<line x1="55.2" y1="636.72" x2="59.6" y2="636.72" stroke="#000" stroke-width="1.4"/>
<text x="51.5" y="640.12" font-size="9.6" fill="#222" text-anchor="end">2</text>
<line x1="66.52" y1="642.1" x2="66.52" y2="645.8" stroke="#000" stroke-width="1.4"/>
<text x="66.52" y="658" font-size="9.6" fill="#222" text-anchor="middle">2</text>
<line x1="55.2" y1="608.18" x2="59.6" y2="608.18" stroke="#000" stroke-width="1.4"/>
<text x="51.5" y="611.58" font-size="9.6" fill="#222" text-anchor="end">5</text>
<line x1="103.03" y1="642.1" x2="103.03" y2="645.8" stroke="#000" stroke-width="1.4"/>
<text x="103.03" y="658" font-size="9.6" fill="#222" text-anchor="middle">5</text>
<line x1="55.2" y1="586.60" x2="59.6" y2="586.60" stroke="#000" stroke-width="1.4"/>
<text x="51.5" y="590.00" font-size="9.6" fill="#222" text-anchor="end">10</text>
<line x1="130.65" y1="642.1" x2="130.65" y2="645.8" stroke="#000" stroke-width="1.4"/>
<text x="130.65" y="658" font-size="9.6" fill="#222" text-anchor="middle">10</text>
<line x1="55.2" y1="565.02" x2="59.6" y2="565.02" stroke="#000" stroke-width="1.4"/>
<text x="51.5" y="568.42" font-size="9.6" fill="#222" text-anchor="end">20</text>
<line x1="158.27" y1="642.1" x2="158.27" y2="645.8" stroke="#000" stroke-width="1.4"/>
<text x="158.27" y="658" font-size="9.6" fill="#222" text-anchor="middle">20</text>
<line x1="55.2" y1="536.48" x2="59.6" y2="536.48" stroke="#000" stroke-width="1.4"/>
<text x="51.5" y="539.88" font-size="9.6" fill="#222" text-anchor="end">50</text>
<line x1="194.78" y1="642.1" x2="194.78" y2="645.8" stroke="#000" stroke-width="1.4"/>
<text x="194.78" y="658" font-size="9.6" fill="#222" text-anchor="middle">50</text>
<line x1="55.2" y1="514.90" x2="59.6" y2="514.90" stroke="#000" stroke-width="1.4"/>
<text x="51.5" y="518.30" font-size="9.6" fill="#222" text-anchor="end">100</text>
<line x1="222.40" y1="642.1" x2="222.40" y2="645.8" stroke="#000" stroke-width="1.4"/>
<text x="222.40" y="658" font-size="9.6" fill="#222" text-anchor="middle">100</text>
<line x1="55.2" y1="493.32" x2="59.6" y2="493.32" stroke="#000" stroke-width="1.4"/>
<text x="51.5" y="496.72" font-size="9.6" fill="#222" text-anchor="end">200</text>
<line x1="250.02" y1="642.1" x2="250.02" y2="645.8" stroke="#000" stroke-width="1.4"/>
<text x="250.02" y="658" font-size="9.6" fill="#222" text-anchor="middle">200</text>
<text x="28.2" y="564.8" font-size="10.4" fill="#222" text-anchor="middle" transform="rotate(-90 28.2 564.8)" textLength="116.6" lengthAdjust="spacingAndGlyphs" stroke="#222" stroke-width="0.25">Relative miR expression in thymi</text>
<text x="158.4" y="673.3" font-size="10.4" fill="#222" text-anchor="middle" textLength="131" lengthAdjust="spacingAndGlyphs" stroke="#222" stroke-width="0.25">Relative expression in T-ALL samples</text>
<circle cx="238.60" cy="512.30" r="1.6" fill="#661028"/>
<circle cx="179.00" cy="534.30" r="1.6" fill="#661028"/>
<circle cx="192.70" cy="530.50" r="1.6" fill="#661028"/>
<circle cx="194.70" cy="532.90" r="1.6" fill="#661028"/>
<circle cx="199.40" cy="531.20" r="1.6" fill="#661028"/>
<circle cx="202.10" cy="533.40" r="1.6" fill="#661028"/>
<circle cx="171.40" cy="560.20" r="1.6" fill="#661028"/>
<circle cx="178.20" cy="567.60" r="1.6" fill="#661028"/>
<circle cx="201.30" cy="569.20" r="1.6" fill="#661028"/>
<circle cx="146.70" cy="551.00" r="1.6" fill="#661028"/>
<circle cx="142.90" cy="570.90" r="1.6" fill="#661028"/>
<circle cx="127.30" cy="583.90" r="1.6" fill="#661028"/>
<circle cx="143.40" cy="583.60" r="1.6" fill="#661028"/>
<circle cx="142.60" cy="585.90" r="1.6" fill="#661028"/>
<circle cx="128.60" cy="594.80" r="1.6" fill="#661028"/>
<circle cx="123.10" cy="596.90" r="1.6" fill="#661028"/>
<circle cx="123.60" cy="599.50" r="1.6" fill="#661028"/>
<circle cx="120.20" cy="608.70" r="1.6" fill="#661028"/>
<circle cx="116.70" cy="612.10" r="1.6" fill="#661028"/>
<circle cx="222.80" cy="636.50" r="1.6" fill="#661028"/>
<text x="230.40" y="521.20" font-size="4.9" font-weight="bold" fill="#111" text-anchor="start">miR-19b</text>
<text x="162.40" y="532.30" font-size="4.9" font-weight="bold" fill="#111" text-anchor="start">miR-142-3p</text>
<text x="157.70" y="536.10" font-size="4.9" font-weight="bold" fill="#111" text-anchor="start">miR-16</text>
<text x="192.40" y="527.30" font-size="4.9" font-weight="bold" fill="#111" text-anchor="start">miR-17</text>
<text x="208.80" y="535.70" font-size="4.9" font-weight="bold" fill="#111" text-anchor="start">miR-20a</text>
<text x="183.90" y="541.10" font-size="4.9" font-weight="bold" fill="#111" text-anchor="start">miR-106a</text>
<text x="176.80" y="562.00" font-size="4.9" font-weight="bold" fill="#111" text-anchor="start">miR-342-3p</text>
<text x="169.20" y="575.40" font-size="4.9" font-weight="bold" fill="#111" text-anchor="start">miR-191</text>
<text x="193.00" y="577.10" font-size="4.9" font-weight="bold" fill="#111" text-anchor="start">miR-150</text>
<text x="120.60" y="552.80" font-size="4.9" font-weight="bold" fill="#111" text-anchor="start">miR-181a</text>
<text x="118.70" y="572.70" font-size="4.9" font-weight="bold" fill="#111" text-anchor="start">miR-184</text>
<text x="103.20" y="585.80" font-size="4.9" font-weight="bold" fill="#111" text-anchor="start">miR-92a</text>
<text x="148.60" y="585.60" font-size="4.9" font-weight="bold" fill="#111" text-anchor="start">miR-30b</text>
<text x="134.00" y="593.80" font-size="4.9" font-weight="bold" fill="#111" text-anchor="start">miR-30c</text>
<text x="105.20" y="597.00" font-size="4.9" font-weight="bold" fill="#111" text-anchor="start">miR-19a</text>
<text x="129.80" y="599.50" font-size="4.9" font-weight="bold" fill="#111" text-anchor="start">miR-20b</text>
<text x="113.80" y="607.90" font-size="4.9" font-weight="bold" fill="#111" text-anchor="start">miR-96</text>
<text x="125.40" y="610.80" font-size="4.9" font-weight="bold" fill="#111" text-anchor="start">miR-146a</text>
<text x="108.00" y="620.40" font-size="4.9" font-weight="bold" fill="#111" text-anchor="start">miR-222</text>
<text x="214.00" y="632.60" font-size="4.9" font-weight="bold" fill="#111" text-anchor="start">miR-223</text>
<text class="lbl" x="276.80" y="496.60">D</text>
<line x1="340.30" y1="561.27" x2="340.30" y2="539.59" stroke="#111" stroke-width="1.3"/>
<line x1="335.70" y1="539.59" x2="344.90" y2="539.59" stroke="#111" stroke-width="1.5"/>
<rect x="331.20" y="561.27" width="18.20" height="80.73" fill="#69a83e"/>
<line x1="340.30" y1="642.00" x2="340.30" y2="645.70" stroke="#000" stroke-width="1.3"/>
<line x1="365.50" y1="576.83" x2="365.50" y2="558.88" stroke="#111" stroke-width="1.3"/>
<line x1="360.90" y1="558.88" x2="370.10" y2="558.88" stroke="#111" stroke-width="1.5"/>
<rect x="356.40" y="576.83" width="18.20" height="65.17" fill="#69a83e"/>
<line x1="365.50" y1="642.00" x2="365.50" y2="645.70" stroke="#000" stroke-width="1.3"/>
<line x1="390.70" y1="585.48" x2="390.70" y2="559.54" stroke="#111" stroke-width="1.3"/>
<line x1="386.10" y1="559.54" x2="395.30" y2="559.54" stroke="#111" stroke-width="1.5"/>
<rect x="381.60" y="585.48" width="18.20" height="56.52" fill="#69a83e"/>
<line x1="390.70" y1="642.00" x2="390.70" y2="645.70" stroke="#000" stroke-width="1.3"/>
<line x1="415.90" y1="622.98" x2="415.90" y2="622.05" stroke="#111" stroke-width="1.3"/>
<line x1="411.30" y1="622.05" x2="420.50" y2="622.05" stroke="#111" stroke-width="1.5"/>
<rect x="406.80" y="622.98" width="18.20" height="19.02" fill="#69a83e"/>
<line x1="415.90" y1="642.00" x2="415.90" y2="645.70" stroke="#000" stroke-width="1.3"/>
<rect x="432.00" y="628.03" width="18.20" height="13.97" fill="#69a83e"/>
<line x1="441.10" y1="642.00" x2="441.10" y2="645.70" stroke="#000" stroke-width="1.3"/>
<line x1="466.30" y1="628.70" x2="466.30" y2="622.45" stroke="#111" stroke-width="1.3"/>
<line x1="461.70" y1="622.45" x2="470.90" y2="622.45" stroke="#111" stroke-width="1.5"/>
<rect x="457.20" y="628.70" width="18.20" height="13.30" fill="#69a83e"/>
<line x1="466.30" y1="642.00" x2="466.30" y2="645.70" stroke="#000" stroke-width="1.3"/>
<line x1="491.50" y1="633.75" x2="491.50" y2="633.22" stroke="#111" stroke-width="1.3"/>
<line x1="486.90" y1="633.22" x2="496.10" y2="633.22" stroke="#111" stroke-width="1.5"/>
<rect x="482.40" y="633.75" width="18.20" height="8.25" fill="#69a83e"/>
<line x1="491.50" y1="642.00" x2="491.50" y2="645.70" stroke="#000" stroke-width="1.3"/>
<line x1="328.00" y1="531.80" x2="328.00" y2="642.80" stroke="#000" stroke-width="1.6"/>
<line x1="327.20" y1="642.00" x2="505.00" y2="642.00" stroke="#000" stroke-width="1.6"/>
<line x1="323.80" y1="642.00" x2="328.00" y2="642.00" stroke="#000" stroke-width="1.3"/>
<text x="320.70" y="645.30" font-size="9.2" fill="#222" text-anchor="end">0</text>
<line x1="323.80" y1="615.40" x2="328.00" y2="615.40" stroke="#000" stroke-width="1.3"/>
<text x="320.70" y="618.70" font-size="9.2" fill="#222" text-anchor="end">2</text>
<line x1="323.80" y1="588.80" x2="328.00" y2="588.80" stroke="#000" stroke-width="1.3"/>
<text x="320.70" y="592.10" font-size="9.2" fill="#222" text-anchor="end">4</text>
<line x1="323.80" y1="562.20" x2="328.00" y2="562.20" stroke="#000" stroke-width="1.3"/>
<text x="320.70" y="565.50" font-size="9.2" fill="#222" text-anchor="end">6</text>
<line x1="323.80" y1="535.60" x2="328.00" y2="535.60" stroke="#000" stroke-width="1.3"/>
<text x="320.70" y="538.90" font-size="9.2" fill="#222" text-anchor="end">8</text>
<text x="344.90" y="656.50" font-size="9.6" fill="#222" text-anchor="end" transform="rotate(-45 344.90 656.50)">Pro-T</text>
<text x="370.10" y="656.50" font-size="9.6" fill="#222" text-anchor="end" transform="rotate(-45 370.10 656.50)">Pre-T</text>
<text x="395.30" y="656.50" font-size="9.6" fill="#222" text-anchor="end" transform="rotate(-45 395.30 656.50)">ISP</text>
<text x="420.50" y="656.50" font-size="9.6" fill="#222" text-anchor="end" transform="rotate(-45 420.50 656.50)">IDP</text>
<text x="445.70" y="656.50" font-size="9.6" fill="#222" text-anchor="end" transform="rotate(-45 445.70 656.50)">DP</text>
<text x="470.90" y="656.50" font-size="9.6" fill="#222" text-anchor="end" transform="rotate(-45 470.90 656.50)">SP4+</text>
<text x="496.10" y="656.50" font-size="9.6" fill="#222" text-anchor="end" transform="rotate(-45 496.10 656.50)">SP8+</text>
<text x="294.80" y="587.00" font-size="11" fill="#222" text-anchor="middle" transform="rotate(-90 294.80 587.00)" textLength="65.0" lengthAdjust="spacingAndGlyphs" stroke="#222" stroke-width="0.25">Relative miR-125b</text>
<text x="305.20" y="587.00" font-size="11" fill="#222" text-anchor="middle" transform="rotate(-90 305.20 587.00)" textLength="36.6" lengthAdjust="spacingAndGlyphs" stroke="#222" stroke-width="0.25">expression</text>
<path d="M331.00 535.40V532.70H399.00V535.40" stroke="#111" stroke-width="1.3" fill="none"/>
<path d="M364.50 532.70V523.50H453.80V612.00" stroke="#111" stroke-width="1.3" fill="none"/>
<path d="M408.00 614.50V612.00H498.80V614.50" stroke="#111" stroke-width="1.3" fill="none"/>
<text x="409.30" y="524.20" font-size="10.6" font-weight="bold" fill="#111" text-anchor="middle" letter-spacing="0.3">***</text>
<text class="lbl" x="9.20" y="709.30">E</text>
<line x1="72.20" y1="732.58" x2="72.20" y2="723.36" stroke="#111" stroke-width="1.3"/>
<line x1="67.60" y1="723.36" x2="76.80" y2="723.36" stroke="#111" stroke-width="1.5"/>
<rect x="63.30" y="732.58" width="17.80" height="86.92" fill="#2d4b7c"/>
<line x1="72.20" y1="819.50" x2="72.20" y2="823.20" stroke="#000" stroke-width="1.3"/>
<line x1="96.80" y1="756.15" x2="96.80" y2="741.19" stroke="#111" stroke-width="1.3"/>
<line x1="92.20" y1="741.19" x2="101.40" y2="741.19" stroke="#111" stroke-width="1.5"/>
<rect x="87.90" y="756.15" width="17.80" height="63.35" fill="#2d4b7c"/>
<line x1="96.80" y1="819.50" x2="96.80" y2="823.20" stroke="#000" stroke-width="1.3"/>
<line x1="121.40" y1="776.65" x2="121.40" y2="766.20" stroke="#111" stroke-width="1.3"/>
<line x1="116.80" y1="766.20" x2="126.00" y2="766.20" stroke="#111" stroke-width="1.5"/>
<rect x="112.50" y="776.65" width="17.80" height="42.85" fill="#2d4b7c"/>
<line x1="121.40" y1="819.50" x2="121.40" y2="823.20" stroke="#000" stroke-width="1.3"/>
<line x1="146.00" y1="800.43" x2="146.00" y2="791.41" stroke="#111" stroke-width="1.3"/>
<line x1="141.40" y1="791.41" x2="150.60" y2="791.41" stroke="#111" stroke-width="1.5"/>
<rect x="137.10" y="800.43" width="17.80" height="19.07" fill="#2d4b7c"/>
<line x1="146.00" y1="819.50" x2="146.00" y2="823.20" stroke="#000" stroke-width="1.3"/>
<rect x="161.80" y="798.18" width="17.80" height="21.32" fill="#2d4b7c"/>
<line x1="170.70" y1="819.50" x2="170.70" y2="823.20" stroke="#000" stroke-width="1.3"/>
<line x1="195.30" y1="803.10" x2="195.30" y2="799.41" stroke="#111" stroke-width="1.3"/>
<line x1="190.70" y1="799.41" x2="199.90" y2="799.41" stroke="#111" stroke-width="1.5"/>
<rect x="186.40" y="803.10" width="17.80" height="16.40" fill="#2d4b7c"/>
<line x1="195.30" y1="819.50" x2="195.30" y2="823.20" stroke="#000" stroke-width="1.3"/>
<line x1="219.90" y1="809.25" x2="219.90" y2="808.84" stroke="#111" stroke-width="1.3"/>
<line x1="215.30" y1="808.84" x2="224.50" y2="808.84" stroke="#111" stroke-width="1.5"/>
<rect x="211.00" y="809.25" width="17.80" height="10.25" fill="#2d4b7c"/>
<line x1="219.90" y1="819.50" x2="219.90" y2="823.20" stroke="#000" stroke-width="1.3"/>
<line x1="59.50" y1="714.00" x2="59.50" y2="820.30" stroke="#000" stroke-width="1.6"/>
<line x1="58.70" y1="819.50" x2="233.80" y2="819.50" stroke="#000" stroke-width="1.6"/>
<line x1="55.30" y1="819.50" x2="59.50" y2="819.50" stroke="#000" stroke-width="1.3"/>
<text x="52.20" y="822.80" font-size="9.2" fill="#222" text-anchor="end">0</text>
<line x1="55.30" y1="799.00" x2="59.50" y2="799.00" stroke="#000" stroke-width="1.3"/>
<text x="52.20" y="802.30" font-size="9.2" fill="#222" text-anchor="end">1</text>
<line x1="55.30" y1="778.50" x2="59.50" y2="778.50" stroke="#000" stroke-width="1.3"/>
<text x="52.20" y="781.80" font-size="9.2" fill="#222" text-anchor="end">2</text>
<line x1="55.30" y1="758.00" x2="59.50" y2="758.00" stroke="#000" stroke-width="1.3"/>
<text x="52.20" y="761.30" font-size="9.2" fill="#222" text-anchor="end">3</text>
<line x1="55.30" y1="737.50" x2="59.50" y2="737.50" stroke="#000" stroke-width="1.3"/>
<text x="52.20" y="740.80" font-size="9.2" fill="#222" text-anchor="end">4</text>
<line x1="55.30" y1="717.00" x2="59.50" y2="717.00" stroke="#000" stroke-width="1.3"/>
<text x="52.20" y="720.30" font-size="9.2" fill="#222" text-anchor="end">5</text>
<text x="76.80" y="834.00" font-size="9.6" fill="#222" text-anchor="end" transform="rotate(-45 76.80 834.00)">Pro-T</text>
<text x="101.40" y="834.00" font-size="9.6" fill="#222" text-anchor="end" transform="rotate(-45 101.40 834.00)">Pre-T</text>
<text x="126.00" y="834.00" font-size="9.6" fill="#222" text-anchor="end" transform="rotate(-45 126.00 834.00)">ISP</text>
<text x="150.60" y="834.00" font-size="9.6" fill="#222" text-anchor="end" transform="rotate(-45 150.60 834.00)">IDP</text>
<text x="175.30" y="834.00" font-size="9.6" fill="#222" text-anchor="end" transform="rotate(-45 175.30 834.00)">DP</text>
<text x="199.90" y="834.00" font-size="9.6" fill="#222" text-anchor="end" transform="rotate(-45 199.90 834.00)">SP4+</text>
<text x="224.50" y="834.00" font-size="9.6" fill="#222" text-anchor="end" transform="rotate(-45 224.50 834.00)">SP8+</text>
<text x="26.40" y="766.00" font-size="11" fill="#222" text-anchor="middle" transform="rotate(-90 26.40 766.00)" textLength="60.0" lengthAdjust="spacingAndGlyphs" stroke="#222" stroke-width="0.25">Relative miR-99a</text>
<text x="38.80" y="766.00" font-size="11" fill="#222" text-anchor="middle" transform="rotate(-90 38.80 766.00)" textLength="36.6" lengthAdjust="spacingAndGlyphs" stroke="#222" stroke-width="0.25">expression</text>
<path d="M62.50 720.00V717.50H129.30V720.00" stroke="#111" stroke-width="1.3" fill="none"/>
<path d="M95.00 717.50V709.00H182.50V782.00" stroke="#111" stroke-width="1.3" fill="none"/>
<path d="M138.00 785.00V782.00H227.50V785.00" stroke="#111" stroke-width="1.3" fill="none"/>
<text x="139.00" y="709.80" font-size="10.6" font-weight="bold" fill="#111" text-anchor="middle" letter-spacing="0.3">***</text>
<text class="lbl" x="278.60" y="709.30">F</text>
<line x1="340.40" y1="743.65" x2="340.40" y2="731.97" stroke="#111" stroke-width="1.3"/>
<line x1="335.80" y1="731.97" x2="345.00" y2="731.97" stroke="#111" stroke-width="1.5"/>
<rect x="331.30" y="743.65" width="18.20" height="75.85" fill="#da8c14"/>
<line x1="340.40" y1="819.50" x2="340.40" y2="823.20" stroke="#000" stroke-width="1.3"/>
<line x1="365.00" y1="754.51" x2="365.00" y2="743.03" stroke="#111" stroke-width="1.3"/>
<line x1="360.40" y1="743.03" x2="369.60" y2="743.03" stroke="#111" stroke-width="1.5"/>
<rect x="355.90" y="754.51" width="18.20" height="64.99" fill="#da8c14"/>
<line x1="365.00" y1="819.50" x2="365.00" y2="823.20" stroke="#000" stroke-width="1.3"/>
<line x1="389.60" y1="774.40" x2="389.60" y2="761.08" stroke="#111" stroke-width="1.3"/>
<line x1="385.00" y1="761.08" x2="394.20" y2="761.08" stroke="#111" stroke-width="1.5"/>
<rect x="380.50" y="774.40" width="18.20" height="45.10" fill="#da8c14"/>
<line x1="389.60" y1="819.50" x2="389.60" y2="823.20" stroke="#000" stroke-width="1.3"/>
<line x1="414.30" y1="804.12" x2="414.30" y2="800.02" stroke="#111" stroke-width="1.3"/>
<line x1="409.70" y1="800.02" x2="418.90" y2="800.02" stroke="#111" stroke-width="1.5"/>
<rect x="405.20" y="804.12" width="18.20" height="15.38" fill="#da8c14"/>
<line x1="414.30" y1="819.50" x2="414.30" y2="823.20" stroke="#000" stroke-width="1.3"/>
<rect x="429.80" y="798.18" width="18.20" height="21.32" fill="#da8c14"/>
<line x1="438.90" y1="819.50" x2="438.90" y2="823.20" stroke="#000" stroke-width="1.3"/>
<line x1="463.50" y1="807.00" x2="463.50" y2="804.12" stroke="#111" stroke-width="1.3"/>
<line x1="458.90" y1="804.12" x2="468.10" y2="804.12" stroke="#111" stroke-width="1.5"/>
<rect x="454.40" y="807.00" width="18.20" height="12.50" fill="#da8c14"/>
<line x1="463.50" y1="819.50" x2="463.50" y2="823.20" stroke="#000" stroke-width="1.3"/>
<line x1="488.10" y1="794.28" x2="488.10" y2="780.75" stroke="#111" stroke-width="1.3"/>
<line x1="483.50" y1="780.75" x2="492.70" y2="780.75" stroke="#111" stroke-width="1.5"/>
<rect x="479.00" y="794.28" width="18.20" height="25.22" fill="#da8c14"/>
<line x1="488.10" y1="819.50" x2="488.10" y2="823.20" stroke="#000" stroke-width="1.3"/>
<line x1="328.00" y1="714.00" x2="328.00" y2="820.30" stroke="#000" stroke-width="1.6"/>
<line x1="327.20" y1="819.50" x2="501.30" y2="819.50" stroke="#000" stroke-width="1.6"/>
<line x1="323.80" y1="819.50" x2="328.00" y2="819.50" stroke="#000" stroke-width="1.3"/>
<text x="320.70" y="822.80" font-size="9.2" fill="#222" text-anchor="end">0</text>
<line x1="323.80" y1="799.00" x2="328.00" y2="799.00" stroke="#000" stroke-width="1.3"/>
<text x="320.70" y="802.30" font-size="9.2" fill="#222" text-anchor="end">1</text>
<line x1="323.80" y1="778.50" x2="328.00" y2="778.50" stroke="#000" stroke-width="1.3"/>
<text x="320.70" y="781.80" font-size="9.2" fill="#222" text-anchor="end">2</text>
<line x1="323.80" y1="758.00" x2="328.00" y2="758.00" stroke="#000" stroke-width="1.3"/>
<text x="320.70" y="761.30" font-size="9.2" fill="#222" text-anchor="end">3</text>
<line x1="323.80" y1="737.50" x2="328.00" y2="737.50" stroke="#000" stroke-width="1.3"/>
<text x="320.70" y="740.80" font-size="9.2" fill="#222" text-anchor="end">4</text>
<line x1="323.80" y1="717.00" x2="328.00" y2="717.00" stroke="#000" stroke-width="1.3"/>
<text x="320.70" y="720.30" font-size="9.2" fill="#222" text-anchor="end">5</text>
<text x="345.00" y="834.00" font-size="9.6" fill="#222" text-anchor="end" transform="rotate(-45 345.00 834.00)">Pro-T</text>
<text x="369.60" y="834.00" font-size="9.6" fill="#222" text-anchor="end" transform="rotate(-45 369.60 834.00)">Pre-T</text>
<text x="394.20" y="834.00" font-size="9.6" fill="#222" text-anchor="end" transform="rotate(-45 394.20 834.00)">ISP</text>
<text x="418.90" y="834.00" font-size="9.6" fill="#222" text-anchor="end" transform="rotate(-45 418.90 834.00)">IDP</text>
<text x="443.50" y="834.00" font-size="9.6" fill="#222" text-anchor="end" transform="rotate(-45 443.50 834.00)">DP</text>
<text x="468.10" y="834.00" font-size="9.6" fill="#222" text-anchor="end" transform="rotate(-45 468.10 834.00)">SP4+</text>
<text x="492.70" y="834.00" font-size="9.6" fill="#222" text-anchor="end" transform="rotate(-45 492.70 834.00)">SP8+</text>
<text x="294.80" y="766.00" font-size="11" fill="#222" text-anchor="middle" transform="rotate(-90 294.80 766.00)" textLength="60.0" lengthAdjust="spacingAndGlyphs" stroke="#222" stroke-width="0.25">Relative miR-100</text>
<text x="305.20" y="766.00" font-size="11" fill="#222" text-anchor="middle" transform="rotate(-90 305.20 766.00)" textLength="36.6" lengthAdjust="spacingAndGlyphs" stroke="#222" stroke-width="0.25">expression</text>
<path d="M331.30 727.50V725.00H398.00V727.50" stroke="#111" stroke-width="1.3" fill="none"/>
<path d="M363.80 725.00V716.20H451.30V776.60" stroke="#111" stroke-width="1.3" fill="none"/>
<path d="M407.00 779.50V776.60H495.50V779.50" stroke="#111" stroke-width="1.3" fill="none"/>
<text x="407.50" y="717.40" font-size="10.6" font-weight="bold" fill="#111" text-anchor="middle" letter-spacing="0.3">***</text>
<rect x="0" y="0" width="520" height="1.7" fill="#000"/><rect x="518.1" y="0" width="1.9" height="862" fill="#000"/><rect x="0" y="860.1" width="520" height="1.9" fill="#000"/><rect x="0" y="0" width="1.3" height="862" fill="#000"/>
</svg></body></html>
